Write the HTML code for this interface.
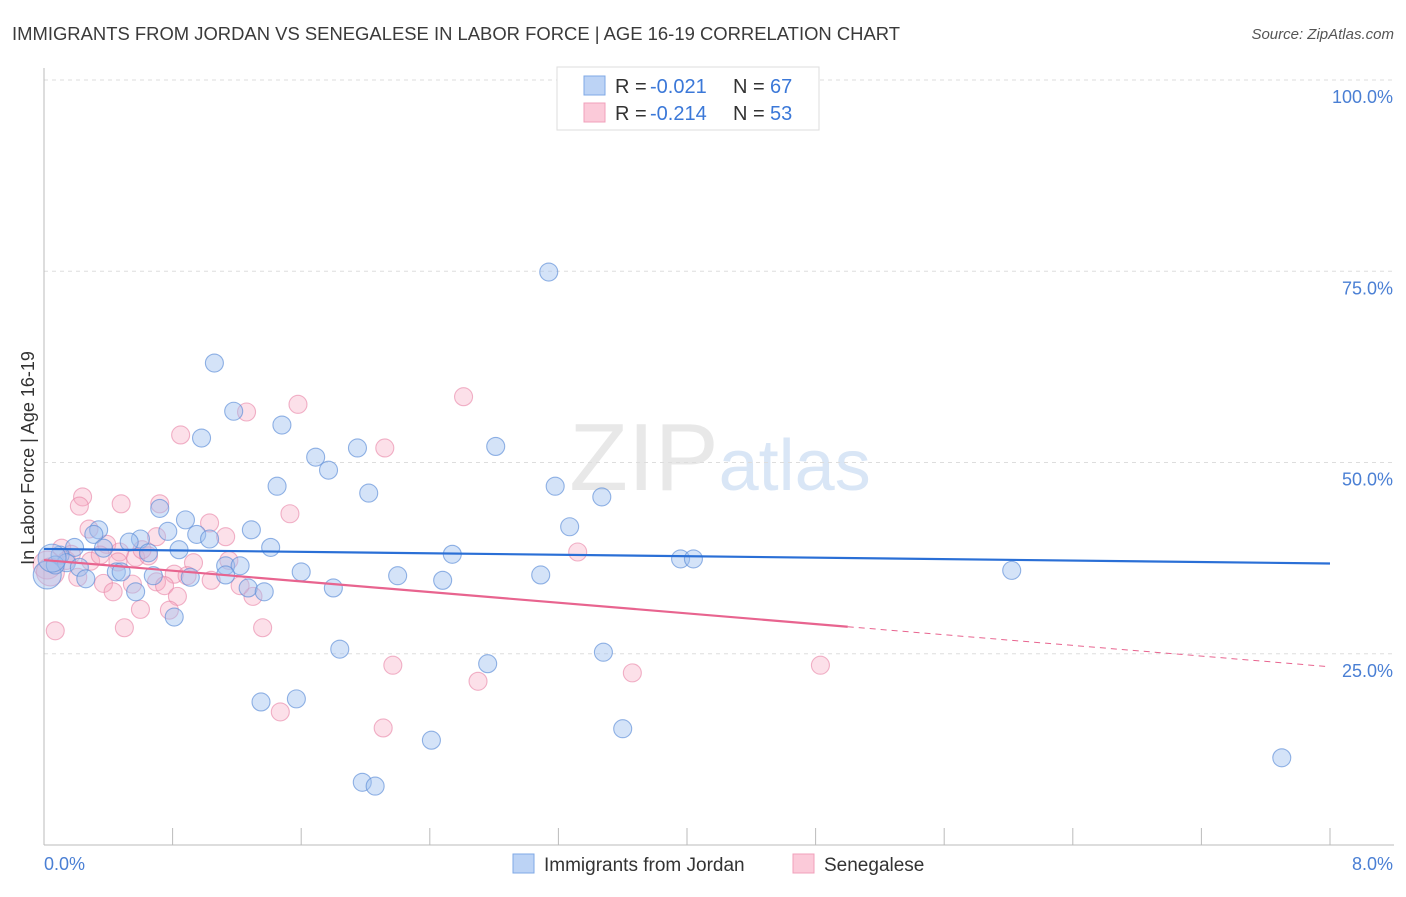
<!DOCTYPE html>
<html><head><meta charset="utf-8"><style>
body{margin:0;background:#fff;font-family:"Liberation Sans",sans-serif;}
svg text{font-family:"Liberation Sans",sans-serif;}
</style></head><body>
<svg id="chart" width="1406" height="892" viewBox="0 0 1406 892">
<text x="12" y="40" font-size="18" fill="#3a3a3a" textLength="888" lengthAdjust="spacingAndGlyphs">IMMIGRANTS FROM JORDAN VS SENEGALESE IN LABOR FORCE | AGE 16-19 CORRELATION CHART</text>
<text x="1394" y="39" font-size="15" fill="#555" text-anchor="end" font-style="italic">Source: ZipAtlas.com</text>
<text x="720" y="490" font-size="96" fill="#e8e8e8" text-anchor="middle" font-family="Liberation Serif"><tspan>ZIP</tspan><tspan fill="#d9e6f6" font-family="Liberation Sans" font-size="72">atlas</tspan></text>
<g id="grid"></g>
<g id="axes"></g>
<g id="points"></g>
<g id="trends"></g>
<text transform="translate(34,458) rotate(-90)" font-size="18" fill="#333" text-anchor="middle">In Labor Force | Age 16-19</text>
<text x="44" y="870" font-size="18" fill="#4a7fd4">0.0%</text>
<text x="1393" y="870" font-size="18" fill="#4a7fd4" text-anchor="end">8.0%</text>
<g>
<rect x="557" y="67" width="262" height="63" fill="#fff" stroke="#ddd"/>
<rect x="584" y="76" width="21" height="19" fill="#bcd3f5" stroke="#7fa8e6"/>
<rect x="584" y="103" width="21" height="19" fill="#fbcad9" stroke="#f0a0bb"/>
<text x="615" y="93" font-size="20" fill="#333">R = </text>
<text x="650" y="93" font-size="20" fill="#3b78d8">-0.021</text>
<text x="733" y="93" font-size="20" fill="#333">N = </text>
<text x="770" y="93" font-size="20" fill="#3b78d8">67</text>
<text x="615" y="120" font-size="20" fill="#333">R = </text>
<text x="650" y="120" font-size="20" fill="#3b78d8">-0.214</text>
<text x="733" y="120" font-size="20" fill="#333">N = </text>
<text x="770" y="120" font-size="20" fill="#3b78d8">53</text>
</g>
<g>
<rect x="513" y="854" width="21" height="19" fill="#bcd3f5" stroke="#7fa8e6"/>
<text x="544" y="871" font-size="19" fill="#333">Immigrants from Jordan</text>
<rect x="793" y="854" width="21" height="19" fill="#fbcad9" stroke="#f0a0bb"/>
<text x="824" y="871" font-size="19" fill="#333">Senegalese</text>
</g>
</svg>
<script>
const yTicks=[25,50,75,100];
const yTickLabels=["25.0%","50.0%","75.0%","100.0%"];
const xTicks=[0,0.8,1.6,2.4,3.2,4.0,4.8,5.6,6.4,7.2,8.0];
const jordanX=[3.14,1.06,1.18,1.48,0.98,1.69,1.95,2.81,1.77,1.45,2.02,3.18,3.47,0.72,0.88,3.27,0.34,0.77,1.29,0.95,0.31,1.03,0.60,0.53,0.37,0.19,1.41,0.84,0.65,0.10,2.54,3.96,4.04,0.14,0.22,1.13,1.22,0.45,0.48,6.02,1.60,0.68,1.13,0.91,2.20,3.09,0.26,2.48,0.02,0.57,1.27,1.37,1.80,0.81,1.84,3.48,2.76,1.35,1.57,3.60,2.41,1.98,2.06,7.70,4.76,0.07,0.05];
const jordanY=[74.9,63.0,56.7,54.9,53.2,50.7,51.9,52.1,49.0,46.9,46.0,46.9,45.5,44.0,42.5,41.6,41.2,41.0,41.2,40.6,40.6,40.0,40.0,39.6,38.8,38.9,38.9,38.6,38.2,37.9,38.0,37.4,37.4,36.9,36.3,36.5,36.5,35.7,35.7,35.9,35.7,35.2,35.3,35.0,35.2,35.3,34.8,34.6,35.3,33.1,33.6,33.1,33.6,29.8,25.6,25.2,23.7,18.7,19.1,15.2,13.7,8.2,7.7,11.4,100.3,36.6,37.5];
const senX=[2.61,1.58,1.26,0.85,2.12,0.24,0.22,0.48,0.72,1.53,1.03,0.28,1.13,0.70,0.39,0.11,0.47,0.57,0.65,0.29,0.93,3.32,0.81,0.21,0.37,1.04,0.55,0.70,0.75,0.43,0.83,1.30,0.60,0.78,0.50,1.36,0.07,2.17,2.70,3.66,4.83,1.47,2.11,0.02,0.04,0.14,0.35,1.15,0.17,0.89,0.61,1.22,0.46];
const senY=[58.6,57.6,56.6,53.6,51.9,45.5,44.3,44.6,44.6,43.3,42.1,41.3,40.3,40.3,39.3,38.8,38.3,37.6,37.8,37.1,36.9,38.3,35.4,35.0,34.2,34.6,34.1,34.4,33.9,33.1,32.5,32.5,30.8,30.7,28.4,28.4,28.0,23.5,21.4,22.5,23.5,17.4,15.3,36.6,35.7,37.2,37.9,37.2,38.0,35.2,38.6,33.9,37.0];
const jordanTrend=[38.7,36.8];
const senTrend=[37.25,23.3];
const senSolidEnd=5.0;
const NS="http://www.w3.org/2000/svg";
const X0=44,X1=1330,Y0=845,Y100=80;
const sx=v=>X0+(v/8)*(X1-X0);
const sy=v=>Y0-(v/100)*(Y0-Y100);
function mk(tag,attrs,parent){const e=document.createElementNS(NS,tag);for(const k in attrs)e.setAttribute(k,attrs[k]);document.getElementById(parent).appendChild(e);return e;}
yTicks.forEach((t,i)=>{
 const l=mk('line',{x1:44,x2:1394,y1:sy(t),y2:sy(t),stroke:'#ddd','stroke-dasharray':'4,4'},'grid');
 
 
 const tx=mk('text',{x:1393,y:sy(t)+23,'font-size':18,fill:'#4a7fd4','text-anchor':'end'},'grid');
 tx.textContent=yTickLabels[i];
 
 
});
const ya=mk('line',{x1:44,x2:44,y1:68,y2:845,stroke:'#bbb'},'axes');


const xa=mk('line',{x1:44,x2:1394,y1:845,y2:845,stroke:'#bbb'},'axes');


xTicks.forEach(t=>{
 const l=mk('line',{x1:sx(t),x2:sx(t),y1:828,y2:845,stroke:'#bbb'},'axes');
 
 
});
function dots(xs,ys,fill,stroke,name){
 xs.forEach((x,i)=>{
  const big=(x<0.06)?14:9;
  const c=mk('circle',{cx:sx(x),cy:sy(ys[i]),r:big,fill:fill,stroke:stroke,'stroke-width':1.1},'points');
  
  
 });
}
dots(senX,senY,'rgba(245,165,192,0.35)','rgba(232,130,165,0.6)','senegalese-point');
dots(jordanX,jordanY,'rgba(160,193,240,0.45)','rgba(90,140,215,0.65)','jordan-point');
const bl=mk('line',{x1:sx(0),y1:sy(jordanTrend[0]),x2:sx(8),y2:sy(jordanTrend[1]),stroke:'#2a6fd6','stroke-width':2.2},'trends');


const ps=senTrend[0]+(senTrend[1]-senTrend[0])*senSolidEnd/8;
const pl=mk('line',{x1:sx(0),y1:sy(senTrend[0]),x2:sx(senSolidEnd),y2:sy(ps),stroke:'#e8648f','stroke-width':2.2},'trends');


const pd=mk('line',{x1:sx(senSolidEnd),y1:sy(ps),x2:sx(8),y2:sy(senTrend[1]),stroke:'#e8648f','stroke-width':1,'stroke-dasharray':'6,5'},'trends');


</script>
</body></html>
